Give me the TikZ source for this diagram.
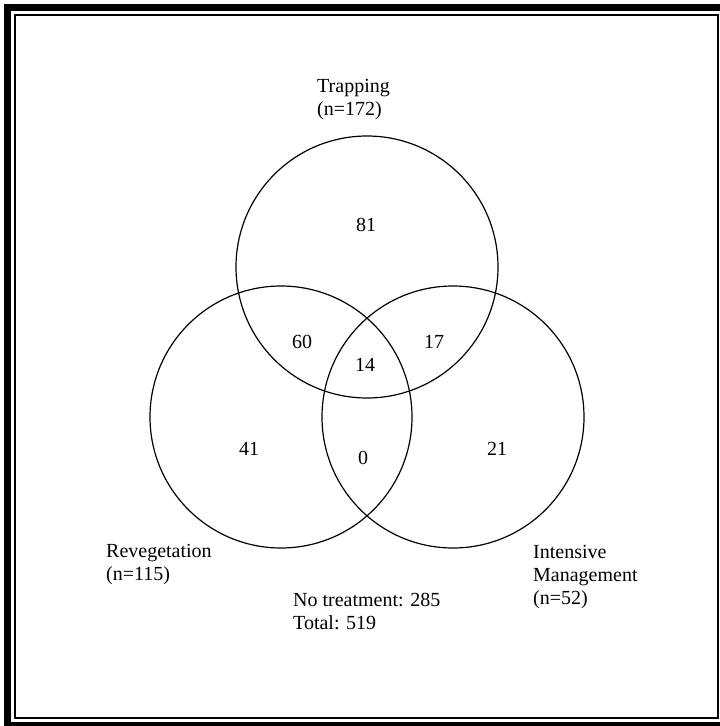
\documentclass[tikz,border=0pt]{standalone}
\usepackage{fontspec}
\setmainfont{Liberation Serif}
\begin{document}
\begin{tikzpicture}[x=1bp,y=-1bp,
  txt/.style={inner sep=0pt, anchor=base west, font=\fontsize{20bp}{23bp}\selectfont},
  num/.style={inner sep=0pt, anchor=center, font=\fontsize{20bp}{23bp}\selectfont},
  venn/.style={draw=black, line width=1.2bp}]
\useasboundingbox (0,0) rectangle (720,726);
\clip (0,0) rectangle (720,726);
% frame
\draw[line width=7bp] (7.5,8) rectangle (728,725.5);
\draw[line width=2.5bp] (15,15) rectangle (718,718);
% circles
\draw[venn] (367,267) circle[radius=131];
\draw[venn] (281,417) circle[radius=131];
\draw[venn] (453,417) circle[radius=131];
% labels
\node[txt] (trap) at (317,93) {\begin{tabular}[t]{@{}l@{}}Trapping\\(n=172)\end{tabular}};
\node[txt] (reveg) at (106,557) {\begin{tabular}[t]{@{}l@{}}Revegetation\\(n=115)\end{tabular}};
\node[txt] (intm) at (533,558) {\begin{tabular}[t]{@{}l@{}}Intensive\\Management\\(n=52)\end{tabular}};
\node[txt] (none) at (293,606) {\begin{tabular}[t]{@{}l@{}}No treatment: 285\\Total: 519\end{tabular}};
% counts
\node[num] (n81) at (366,225) {81};
\node[num] (n60) at (302,342) {60};
\node[num] (n17) at (434,342) {17};
\node[num] (n14) at (365,365) {14};
\node[num] (n41) at (249,449) {41};
\node[num] (n0) at (363,458) {0};
\node[num] (n21) at (497,449) {21};
\end{tikzpicture}
\end{document}
